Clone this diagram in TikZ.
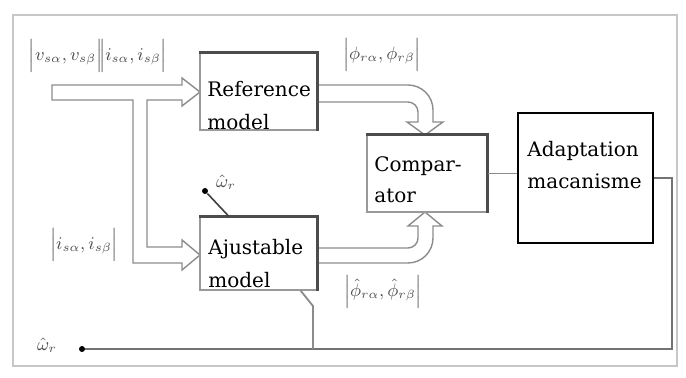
\documentclass[tikz,border=0pt]{standalone}
\usepackage{amsmath}
\usepackage{fontspec}
\newfontfamily\boxfont{DejaVu Serif}
\begin{document}
\begin{tikzpicture}[x=0.5pt,y=-0.5pt,
  boxframe/.style={draw=black!40, line width=0.6pt, fill=white, inner sep=0pt},
  shadeedge/.style={draw=black!70, line width=1.6pt},
  boxtext/.style={anchor=base west, inner sep=0pt, font=\boxfont\fontsize{10}{12}\selectfont},
  hollow/.style={draw=black!45, line width=0.7pt, fill=white, line join=miter},
  mathlbl/.style={inner sep=0pt, text=black!70, font=\fontsize{9}{10}\selectfont},
  wire/.style={draw=black!45, line width=0.9pt},
  dotnode/.style={circle, fill=black, inner sep=0pt, minimum size=3pt}]

\useasboundingbox (0,0) rectangle (686,378);
\fill[white] (0,0) rectangle (686,378);

% page frame
\draw[black!22, line width=1pt] (13,15) rectangle (677,366);

% hollow input arrow with its branch to the adjustable model
\draw[hollow] (52,85) -- (182,85) -- (182,78) -- (200,92) -- (182,106) -- (182,100)
  -- (147,100) -- (147,247) -- (182,247) -- (182,240) -- (200,255) -- (182,270)
  -- (182,263) -- (133,263) -- (133,100) -- (52,100) -- cycle;

% hollow curved arrow: reference model -> comparator
\draw[hollow] (317,85) -- (408,85) arc[start angle=-90, end angle=0, radius=25]
  -- (433,122) -- (443,122) -- (425,135) -- (407,122) -- (418,122) -- (418,112)
  arc[start angle=0, end angle=-90, radius=10] -- (317,102);

% hollow curved arrow: adjustable model -> comparator
\draw[hollow] (317,248) -- (408,248) arc[start angle=90, end angle=0, radius=10]
  -- (418,226) -- (408,226) -- (425,212) -- (442,226) -- (433,226) -- (433,238)
  arc[start angle=0, end angle=90, radius=25] -- (317,263);

% model blocks
\node[boxframe, minimum width=58.5pt, minimum height=38.5pt] (ref) at (258.5,91.5) {};
\draw[shadeedge] (ref.north west) -- (ref.north east) -- (ref.south east);
\node[boxtext] (reft1) at (207,97) {Reference};
\node[boxtext] (reft2) at (207,130) {model};

\node[boxframe, minimum width=58.5pt, minimum height=36.5pt] (ajust) at (258.5,253.5) {};
\draw[shadeedge] (ajust.north west) -- (ajust.north east) -- (ajust.south east);
\node[boxtext] (ajt1) at (208,255) {Ajustable};
\node[boxtext] (ajt2) at (208,288) {model};

\node[boxframe, minimum width=60pt, minimum height=38.5pt] (comp) at (427,173.5) {};
\draw[shadeedge] (comp.north west) -- (comp.north east) -- (comp.south east);
\node[boxtext] (cot1) at (374,172) {Compar-};
\node[boxtext] (cot2) at (374,203) {ator};

\node[draw=black, line width=1.1pt, fill=white, inner sep=0pt,
      minimum width=67.5pt, minimum height=65pt] (adapt) at (585.5,178) {};
\node[boxtext] (adt1) at (527,157) {Adaptation};
\node[boxtext] (adt2) at (527,189) {macanisme};

% comparator output and speed feedback
\draw[wire] (comp.east) -- (comp.east -| adapt.west);
\node[dotnode] (dotb) at (82,349) {};
\coordinate (fbcorner) at (672,349);
\draw[wire, draw=black!55] (adapt.east) -| (fbcorner) -- (dotb);
\coordinate (ajtap) at (313,306);
\draw[wire] ([xshift=-8.5pt]ajust.south east) -- (ajtap) -- (ajtap |- dotb);

% speed input of the adjustable model
\node[dotnode] (dott) at (205,191) {};
\draw[draw=black!75, line width=0.8pt] (dott) -- ([xshift=14.75pt]ajust.north west);

% signal labels
\node[mathlbl] (lblvi) at (98,56)
  {$\Bigl|v_{s\alpha}, v_{s\beta}\Bigr|\!\Bigl|i_{s\alpha}, i_{s\beta}\Bigr|$};
\node[mathlbl] (lbli) at (84,245) {$\Bigl|i_{s\alpha}, i_{s\beta}\Bigr|$};
\node[mathlbl] (lblphi) at (382,55) {$\Bigl|\phi_{r\alpha}, \phi_{r\beta}\Bigr|$};
\node[mathlbl] (lblphih) at (383,292) {$\Bigl|\hat{\phi}_{r\alpha}, \hat{\phi}_{r\beta}\Bigr|$};
\node[mathlbl] (lblwt) at (226,182) {$\hat{\omega}_r$};
\node[mathlbl] (lblwb) at (47,345) {$\hat{\omega}_r$};
\end{tikzpicture}
\end{document}
